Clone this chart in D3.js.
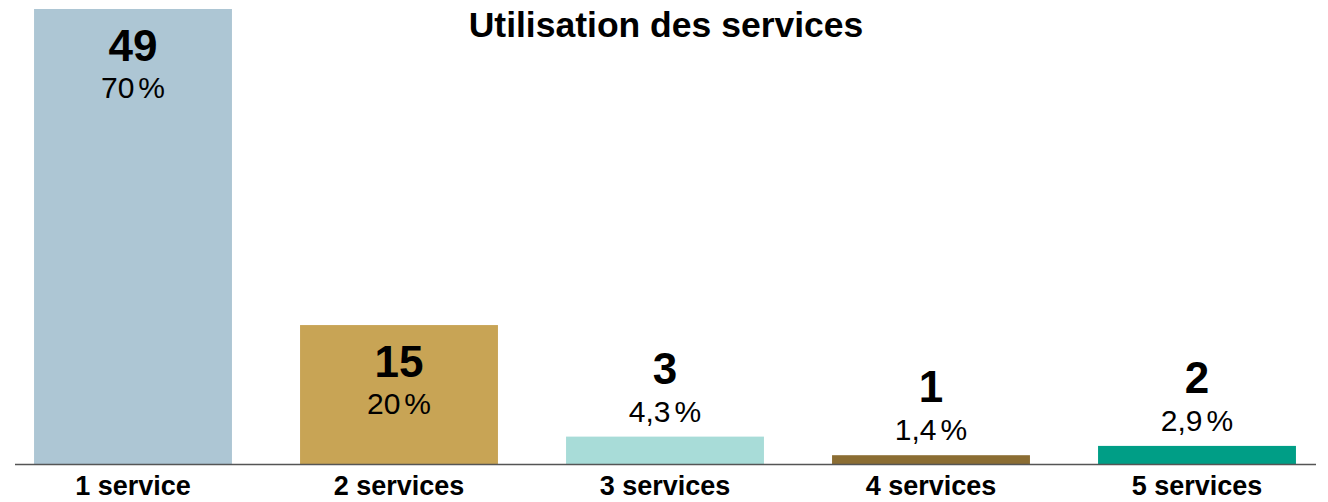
<!DOCTYPE html>
<html>
<head>
<meta charset="utf-8">
<script src="https://cdn.jsdelivr.net/npm/d3@7"></script>
<style>
  body { margin: 0; background: #fff; }
  svg text { font-family: "Liberation Sans", Arial, Helvetica, sans-serif; fill: #000; }
</style>
</head>
<body>
<div id="chart"></div>
<script>
/* Chart data */
var categories = ["1 service", "2 services", "3 services", "4 services", "5 services"];
var counts = [49, 15, 3, 1, 2];
var percents = ["70", "20", "4,3", "1,4", "2,9"];
var colors = ["#adc6d4", "#c8a455", "#a8dcd8", "#8b6d33", "#009e86"];
var title = "Utilisation des services";

var width = 1328, height = 502;
var baseY = 464.5;

var svg = d3.select("#chart").append("svg")
    .attr("width", width)
    .attr("height", height);

var x = d3.scaleBand()
    .domain(categories)
    .range([0, 1330])
    .paddingInner(0.256)
    .paddingOuter(0.128);

var y = d3.scaleLinear()
    .domain([0, 49])
    .range([baseY, 9]);

var data = categories.map(function (c, i) {
    return {cat: c, n: counts[i], pct: percents[i], color: colors[i]};
});

// bars
svg.selectAll(".bar")
    .data(data)
    .enter().append("rect")
    .attr("class", "bar")
    .attr("x", function (d) { return x(d.cat); })
    .attr("y", function (d) { return y(d.n); })
    .attr("width", x.bandwidth())
    .attr("height", function (d) { return baseY - y(d.n); })
    .style("fill", function (d) { return d.color; });

// baseline
svg.append("line")
    .attr("x1", 15).attr("x2", 1316)
    .attr("y1", baseY).attr("y2", baseY)
    .style("stroke", "#555")
    .style("stroke-width", 1.6);

// labels: inside the bar if tall enough, above otherwise
function inside(d) { return baseY - y(d.n) > 100; }

var labels = svg.selectAll(".lbl")
    .data(data)
    .enter().append("g")
    .attr("class", "lbl");

labels.append("text")
    .attr("x", function (d) { return x(d.cat) + x.bandwidth() / 2; })
    .attr("y", function (d) { return inside(d) ? y(d.n) + 52 : y(d.n) - 53; })
    .attr("text-anchor", "middle")
    .style("font-size", "44px")
    .style("font-weight", "bold")
    .text(function (d) { return d.n; });

var pctText = labels.append("text")
    .attr("x", function (d) { return x(d.cat) + x.bandwidth() / 2; })
    .attr("y", function (d) { return inside(d) ? y(d.n) + 89 : y(d.n) - 15; })
    .attr("text-anchor", "middle")
    .style("font-size", "30px");
pctText.append("tspan").text(function (d) { return d.pct; });
pctText.append("tspan").attr("dx", 4).text("%");

// category labels
svg.selectAll(".cat")
    .data(data)
    .enter().append("text")
    .attr("class", "cat")
    .attr("x", function (d) { return x(d.cat) + x.bandwidth() / 2; })
    .attr("y", 495)
    .attr("text-anchor", "middle")
    .style("font-size", "27px")
    .style("font-weight", "bold")
    .text(function (d) { return d.cat; });

// title
svg.append("text")
    .attr("x", 666)
    .attr("y", 37)
    .attr("text-anchor", "middle")
    .style("font-size", "35.5px")
    .style("font-weight", "bold")
    .text(title);
</script>
</body>
</html>
